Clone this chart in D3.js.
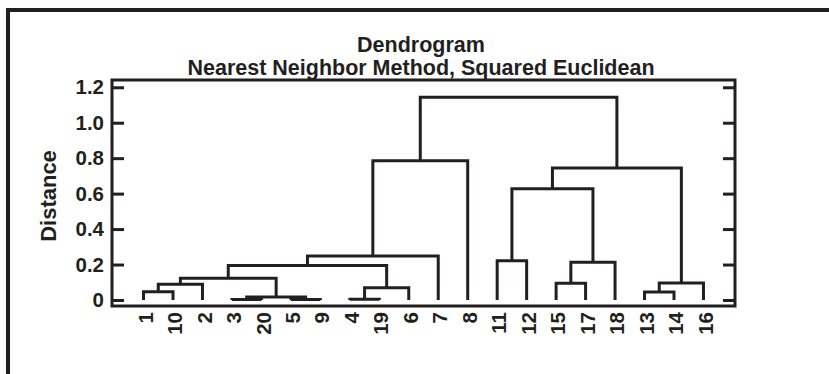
<!DOCTYPE html>
<html>
<head>
<meta charset="utf-8">
<script src="https://cdn.jsdelivr.net/npm/d3@7"></script>
<style>
  body { margin: 0; background: #fff; }
  text { font-family: "Liberation Sans", Arial, sans-serif; font-weight: bold; fill: #231f20; }
</style>
</head>
<body>
<div id="chart"></div>
<script>
// leaf order along the bottom
let leafOrder = ["1", "10", "2", "3", "20", "5", "9", "4", "19", "6", "7", "8",
  "11", "12", "15", "17", "18", "13", "14", "16"];

// merges: mN joins mergeLeft[N] and mergeRight[N] at mergeHeight[N]
let mergeLeft = ["3", "5", "4", "m0", "13", "1", "m2", "m5", "15", "m4",
  "m7", "m10", "m8", "11", "m11", "m13", "m15", "m14", "m17"];
let mergeRight = ["20", "9", "19", "m1", "14", "10", "6", "2", "17", "16",
  "m3", "m6", "18", "12", "7", "m12", "m9", "8", "m16"];
let mergeHeight = [0.002, 0.003, 0.004, 0.017, 0.045, 0.047, 0.069, 0.088, 0.094, 0.096,
  0.122, 0.195, 0.213, 0.221, 0.248, 0.627, 0.745, 0.785, 1.144];

let yTicks = [0, 0.2, 0.4, 0.6, 0.8, 1.0, 1.2];

let width = 829,
  height = 374,
  margin = ({ top: 80, right: 94, bottom: 68, left: 112 });

const ink = "#231f20";

let x = d3.scalePoint()
  .domain(leafOrder)
  .range([margin.left, width - margin.right])
  .padding(1.07);

let y = d3.scaleLinear()
  .domain([-0.034, 1.241])
  .range([height - margin.bottom, margin.top]);

const svg = d3.select("#chart")
  .append("svg")
  .attr("width", width)
  .attr("height", height)
  .attr("viewBox", [0, 0, width, height]);

// outer frame, runs off right and bottom
svg.append("rect")
  .attr("x", 8).attr("y", 10)
  .attr("width", 900).attr("height", 400)
  .attr("fill", "none")
  .attr("stroke", ink)
  .attr("stroke-width", 4);

// title
svg.append("text")
  .attr("x", 421).attr("y", 52)
  .attr("text-anchor", "middle")
  .attr("font-size", 21.5)
  .text("Dendrogram");
svg.append("text")
  .attr("x", 421).attr("y", 75)
  .attr("text-anchor", "middle")
  .attr("font-size", 21.5)
  .text("Nearest Neighbor Method, Squared Euclidean");

// node positions
let nodes = {};
for (let l of leafOrder) nodes[l] = { x: x(l), h: 0 };
let links = [];
mergeHeight.forEach((h, i) => {
  let a = nodes[mergeLeft[i]], b = nodes[mergeRight[i]];
  nodes["m" + i] = { x: (a.x + b.x) / 2, h: h };
  links.push({ a, b, h });
});

svg.append("g")
  .selectAll("path")
  .data(links)
  .join("path")
  .attr("fill", "none")
  .attr("stroke", ink)
  .attr("stroke-width", 3)
  .attr("stroke-linejoin", "miter")
  .attr("d", d => `M${d.a.x},${y(d.a.h)}V${y(d.h)}H${d.b.x}V${y(d.b.h)}`);

// axes
let left = svg.append("g")
  .attr("transform", `translate(${margin.left},0)`)
  .call(d3.axisLeft(y).tickValues(yTicks)
    .tickFormat(d => d === 0 ? "0" : d.toFixed(1))
    .tickSizeInner(-12).tickSizeOuter(0).tickPadding(8));
left.select(".domain").remove();
left.selectAll("line").attr("stroke", ink).attr("stroke-width", 3);
left.selectAll("text").attr("font-size", 20.5).attr("font-family", null).attr("fill", ink);

let right = svg.append("g")
  .attr("transform", `translate(${width - margin.right},0)`)
  .call(d3.axisRight(y).tickValues(yTicks).tickFormat("")
    .tickSizeInner(-12).tickSizeOuter(0));
right.select(".domain").remove();
right.selectAll("line").attr("stroke", ink).attr("stroke-width", 3);

let bottom = svg.append("g")
  .attr("transform", `translate(0,${height - margin.bottom})`)
  .call(d3.axisBottom(x).tickSize(0));
bottom.select(".domain").remove();
bottom.selectAll("text")
  .attr("font-size", 20.5).attr("font-family", null).attr("fill", ink)
  .attr("transform", "rotate(-90)")
  .attr("text-anchor", "end")
  .attr("x", -6).attr("y", 0).attr("dy", "0.42em");

// plot box
svg.append("rect")
  .attr("x", margin.left).attr("y", margin.top)
  .attr("width", width - margin.left - margin.right)
  .attr("height", height - margin.top - margin.bottom)
  .attr("fill", "none")
  .attr("stroke", ink)
  .attr("stroke-width", 3);

svg.append("text")
  .attr("transform", `translate(56,${(margin.top + height - margin.bottom) / 2 + 3}) rotate(-90)`)
  .attr("text-anchor", "middle")
  .attr("font-size", 22)
  .text("Distance");
</script>
</body>
</html>
